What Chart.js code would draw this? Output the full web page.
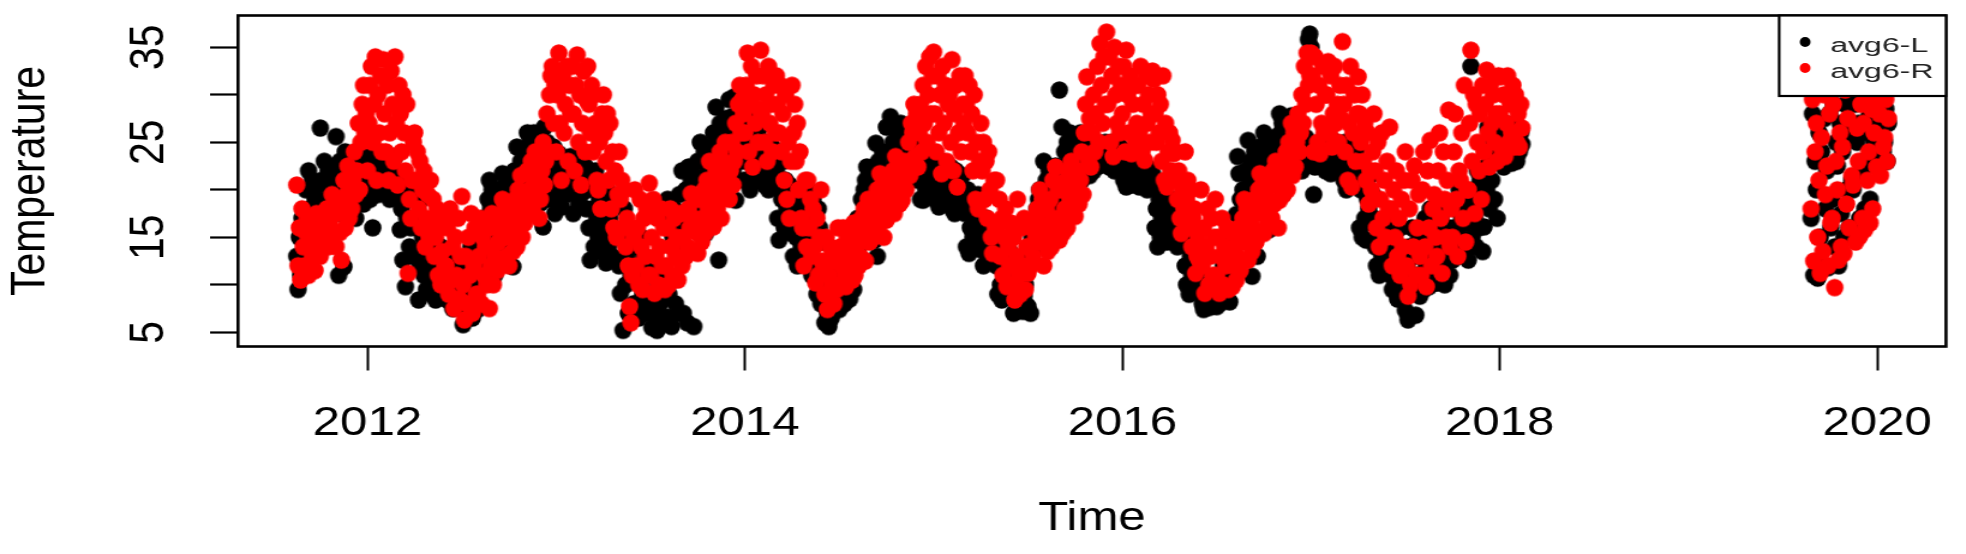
<!DOCTYPE html>
<html>
<head>
<meta charset="utf-8">
<title>avg6 temperature</title>
<script src="https://cdn.jsdelivr.net/npm/chart.js@4.4.1/dist/chart.umd.min.js"></script>
<style>
  html, body { margin: 0; padding: 0; background: #fff; overflow: hidden; }
  /* the original plot is stretched sideways, so the canvas is too */
  #wrap { position: absolute; left: 0; top: 0; width: 1638px; height: 554px; transform: scaleX(1.2002); transform-origin: 0 0; }
</style>
</head>
<body>
<div id="wrap"><canvas id="tempChart" width="1638" height="554"></canvas></div>
<script>
const xTicks = [2012, 2014, 2016, 2018, 2020];
const yTicks = [5, 10, 15, 20, 25, 30, 35];
const yLabels = [5, 15, 25, 35];
const seriesNames = ['avg6-L', 'avg6-R'];

// readings, 144 per year (12 per month)
const perYear = 144;
const start1 = 2011.625;
const start2 = 2019.65;

const avgR1 = [
  // 2011 (from mid Aug)
  20.5, 12, 16, 10.5, 18, 14,
  12, 15.5, 17, 11, 14, 16, 13, 15, 11.5, 17.5, 13.5, 14.5,
  13, 16, 14.5, 17, 15, 18, 14, 16.5, 17.5, 19.5, 15.5, 18.5,
  14, 17.5, 19, 15.5, 12.6, 18, 21, 16, 19.5, 22.5, 17, 20.5,
  18, 21, 24, 19.5, 22, 27, 20, 25, 29, 31, 26, 28,
  // 2012
  22, 27, 31, 33, 25, 29, 34, 21, 30, 26, 32, 24,
  33.7, 28, 24, 31, 21, 26, 32.5, 29, 23, 34, 27, 20.5,
  31, 28, 24, 30, 26, 22, 29, 11.2, 19, 17, 21, 25,
  26, 21, 24, 18, 23, 16, 20, 22, 14, 17, 19.5, 15,
  21, 16.5, 19, 13, 15, 18, 11, 16, 10, 13.5, 17, 12,
  12, 16, 9, 18, 10.5, 14, 7.5, 15, 11, 17, 8.5, 13,
  19.3, 10, 6.3, 13, 8, 15, 11, 17.5, 7, 12, 16, 9,
  9, 13, 17, 8, 15, 11, 14, 10, 16, 7.5, 12, 17.5,
  10, 13, 16, 11.5, 14.5, 12, 17, 19, 15, 18, 13, 16.5,
  12, 15, 18, 13.5, 16, 19, 14, 20, 17.5, 21.5, 15, 19.5,
  16.5, 19, 22, 17.5, 20, 23, 18, 21, 24, 19.5, 22.5, 17,
  19, 22, 25, 20.5, 23, 28, 24, 30, 32, 33, 27, 31,
  // 2013
  24, 30, 34.4, 27, 21, 32, 26, 29, 33, 23, 31, 28,
  33, 28, 22, 31, 34.2, 25, 30, 20.5, 27, 32.5, 24, 29.5,
  33, 29, 26, 31, 24, 30, 27, 21, 20, 25, 18, 28,
  30, 26, 23, 28, 21, 27, 18, 24, 16, 22, 15, 19.5,
  24, 19, 21, 16, 20, 14, 17, 12, 7.7, 6, 11, 15,
  20, 12, 16, 10, 19, 14, 9.5, 17, 13, 18, 11, 20.7,
  11, 15, 19, 9.1, 13, 17, 10, 14, 18, 12, 16, 9.5,
  12, 16, 10, 18, 14, 11, 17, 13, 15, 10.5, 17.5, 12.5,
  12, 15, 17.5, 13, 14, 18, 16, 19.6, 13.5, 17, 19, 15.5,
  13.3, 16, 19, 14.5, 17, 20, 15.5, 21, 18, 23, 16.5, 20.5,
  16.1, 19, 22, 18, 20, 24, 17, 23, 21, 25, 19.5, 22.5,
  19, 22, 25, 20.5, 23, 27, 24, 29, 31, 26, 29.5, 28,
  // 2014
  26, 31, 34.4, 24, 29, 33, 22.4, 30, 27, 32, 25, 28.5,
  34.7, 28, 32, 25, 30, 23, 33, 27, 29, 24, 31, 26,
  32, 29, 26, 31, 24, 28, 21, 30, 19, 25, 17, 23,
  31, 26, 29, 23, 27, 20, 24, 17, 16, 12, 21, 14,
  21, 16, 19, 13, 18, 14, 10.2, 17, 11, 15, 20, 12.5,
  12, 9, 15, 7.4, 11, 14, 10, 13, 8, 12.5, 9.5, 16,
  10, 14, 12, 16, 11, 9.8, 15, 13, 11.5, 14.5, 10.5, 16.5,
  11, 14, 16, 12, 13, 17, 15, 18, 12.5, 16.5, 19, 14.5,
  14.7, 17, 19, 15.5, 18, 20, 16, 21.7, 17.5, 20.5, 15, 19.5,
  16.8, 19, 21, 18, 20, 22, 17.5, 23.5, 19.5, 22.5, 18.5, 21.5,
  18.9, 21, 23, 20, 22, 25, 21.5, 27, 26, 29, 23.5, 28,
  22.4, 26, 29, 24, 31, 27, 33, 25, 30, 34, 28, 32,
  // 2015
  34.5, 28, 24, 32, 26, 30, 21.7, 33, 27, 31, 23, 29,
  30, 25, 33.7, 22, 28, 31, 20.3, 26, 32, 24, 29, 27,
  32, 29, 26, 31, 24, 28, 22, 30, 19, 25, 18, 23,
  27, 22, 25, 19, 23, 17, 24, 20, 15, 13.3, 21, 16,
  21, 16, 19, 13, 17, 11, 15, 18, 9.8, 14, 12, 16.5,
  10, 15, 8.4, 13, 19, 11, 9, 16, 12, 17, 9.5, 14,
  11.2, 14, 12, 16, 13, 17, 15, 18, 14.5, 20, 16.5, 19,
  12, 15, 18, 13.5, 16, 19, 14, 21, 17, 22.4, 15.5, 20,
  14.7, 17, 20, 15.5, 18, 21, 16, 22, 19, 23, 17.5, 21.5,
  17.2, 20, 22, 18.5, 21, 24, 19.5, 26, 29, 31.9, 23, 27.5,
  22.4, 26, 30, 24, 28, 33, 25, 35.4, 31, 27, 34, 29,
  36.6, 29, 34, 25, 32, 23.5, 35, 30, 27, 33, 26, 31,
  // 2016
  28, 33, 24, 34.7, 30, 26, 32, 23.8, 29, 31, 25, 27,
  31, 26, 33, 24, 29, 23.1, 32, 27, 30, 25, 28, 32.5,
  31.6, 28, 25, 30, 26, 29, 23, 32, 21, 27, 20.3, 24,
  26, 22, 25.2, 23.8, 21, 24, 19, 22, 17, 15.4, 20, 18,
  24, 19, 21, 16, 20, 14, 17, 18, 11.2, 13, 15, 12.5,
  20, 12, 16, 9.1, 14, 18, 10, 13, 17, 11, 15, 19,
  11, 15, 9.1, 13, 17, 10, 14, 12, 16, 9.5, 12.5, 15.5,
  9.8, 12, 14, 10.5, 13, 16, 11.5, 15, 17, 19, 14.5, 18,
  12.6, 15, 17, 13.5, 16, 19, 14.5, 18, 20, 21.7, 17.5, 20.5,
  15.4, 18, 20, 16.5, 19, 21, 17, 22, 18.5, 23, 20.5, 16,
  18.9, 21, 23, 19.5, 22, 24, 20, 25, 23.5, 27, 21.5, 26,
  22.4, 25, 28, 24, 26, 30, 27, 33, 29, 34.4, 31, 32,
  // 2017
  34.4, 32, 24, 34, 29, 25, 31, 23.8, 27, 33, 26, 30,
  30, 33.5, 26, 32, 24.5, 28, 33, 27, 29, 25, 31, 27.5,
  35.6, 29, 24, 31, 21, 27, 33, 20.3, 26, 30, 23, 28,
  31.9, 28, 25, 30, 23, 27, 21, 26, 18.5, 22, 20, 24,
  28, 22, 16, 25, 14, 19, 26, 17, 21, 15, 23, 18,
  26.6, 18, 12, 20, 15, 22, 13, 17, 11, 19, 14, 21,
  24, 12, 8.8, 18, 10, 21, 14, 22.5, 11, 16, 19.5, 13,
  11, 20, 24, 14, 9.8, 22, 16, 25.2, 12, 18, 19.5, 15,
  13, 22, 26, 17, 11.2, 24, 19, 15, 21, 28.4, 14, 18,
  15, 24, 28, 19, 13, 22, 21, 26, 17, 31, 14.5, 20,
  20, 27, 34.7, 23, 30, 17.5, 29, 25, 22, 28, 19, 31,
  24, 29, 32.6, 26, 22.4, 31, 27, 30, 25, 28, 23, 32,
  // 2018 (to early Feb)
  28, 31.9, 24, 30, 23.5, 27, 32, 25, 29, 26, 31, 24.5,
  30, 25, 28, 24.5, 29, 26.5
];

const avgL1 = [
  // 2011 (from mid Aug)
  13, 9.5, 15, 11, 17, 12,
  16, 20, 13.5, 22, 18, 14.5, 21, 17, 19, 15, 20.5, 18.5,
  26.5, 21, 15, 23, 19, 16, 22, 17, 20, 18, 21.5, 22.5,
  25.6, 20, 11, 23, 17.5, 22, 11.9, 24, 19, 21.5, 23.5, 18.5,
  18, 21, 23, 17, 20, 22.5, 19, 23.5, 21.5, 18.5, 20.5, 22,
  // 2012
  21, 23.5, 19, 22, 16, 23, 20.5, 22, 19.5, 21.5, 20, 22.5,
  23.8, 21, 22, 20.3, 23, 19, 22.5, 21, 20, 23.5, 21.5, 19.5,
  20, 15.8, 18, 12.6, 21, 9.8, 17, 19, 14, 16, 20.5, 13,
  17, 13, 16, 8.4, 12, 19, 15, 11, 14, 9.5, 13.5, 10.5,
  12, 9, 15, 10.5, 8.4, 13, 16, 11, 14, 9.5, 12.5, 10,
  10, 8.4, 13, 9, 11, 7.5, 12, 9.5, 8, 11.5, 10.5, 12.5,
  9, 5.8, 11, 7, 13, 8, 10, 14, 6.5, 12, 9.5, 11.5,
  7.4, 12, 15, 11, 14, 17, 13, 16, 19, 21, 18, 20,
  15, 11, 18, 14, 20, 16, 17, 21.7, 19, 20.5, 18.5, 21,
  18, 14.7, 20, 11.9, 22, 17, 24.5, 19, 21, 23, 16.5, 22.5,
  24, 21, 26, 20.3, 25, 22, 23.5, 26, 21.5, 24.5, 22.5, 25.5,
  18.6, 24, 16.1, 26.6, 21, 25, 19, 23, 20, 22, 24.5, 17.5,
  // 2013
  22, 19, 23.8, 20, 18.2, 23, 21, 22.5, 19.5, 21.5, 20.5, 23.5,
  21, 17.5, 23, 20, 22, 18.5, 23.5, 19.5, 21.5, 20.5, 22.5, 18,
  20, 16, 12.6, 21, 18, 14, 22, 17, 15, 19, 13.5, 16.5,
  15.4, 18, 12.3, 20, 14, 17, 13, 19, 16, 12.8, 18.5, 15,
  12, 9.1, 15, 5.2, 18, 10, 13, 7, 16, 11, 14, 8,
  12, 8, 14, 6.5, 10, 15, 9, 13, 7, 11, 8.5, 12.5,
  9, 5.5, 11, 7, 12, 5.2, 10, 8, 6.5, 11.5, 8.5, 6,
  6.6, 19, 9, 17, 5.6, 15, 18, 8, 16, 7, 19.5, 14,
  22, 7, 17, 20, 6, 22.4, 18, 21, 19, 5.6, 21.5, 16,
  23, 18, 25, 17, 21, 24, 15.4, 20, 22, 19, 24.5, 19.5,
  26, 21, 28.7, 24, 12.6, 27, 22, 25, 23, 27.5, 21.5, 26.5,
  29.5, 24, 27.7, 22, 29.8, 18.9, 26, 28, 23, 25, 27, 21,
  // 2014
  27, 23, 21, 26, 20, 24, 28, 22, 25, 21.5, 23.5, 26.5,
  24, 21, 23, 20.5, 25, 22, 20, 23.5, 21.5, 24.5, 22.5, 20.8,
  22, 17, 14.7, 20, 19, 23, 16, 21, 18, 15.5, 20.5, 17.5,
  18, 13, 20, 15, 12, 17, 19, 14, 16, 12.5, 18.5, 15.5,
  20, 14, 17, 11, 19, 12, 15, 9, 18, 16, 8, 14.5,
  8, 6, 9.8, 7, 5.6, 9, 6.5, 8.5, 11, 7.5, 10, 12,
  7.4, 10, 9.8, 12, 8, 11, 9, 13, 8.5, 10.5, 12.5, 9.5,
  13, 15, 17, 14, 16, 19, 15.5, 20, 21, 22.4, 18, 21.5,
  18, 20, 22.4, 14.7, 24.9, 13, 23, 19, 21, 24, 17, 22,
  26.6, 22, 24, 27.7, 20.3, 25, 23, 21, 26, 24.5, 22.5, 27,
  24, 21, 26.6, 22, 23, 25, 22.5, 26, 24.5, 21.5, 25.5, 23.5,
  21, 23, 19, 22, 18.9, 23.1, 20, 22, 21.5, 19.5, 22.5, 20.5,
  // 2015
  22, 19, 23.1, 20, 18.2, 21.5, 23, 20, 22.5, 19.5, 21, 18.8,
  20, 22.4, 18, 21, 17.5, 22, 19, 21, 20.5, 18.5, 21.5, 19.5,
  17.5, 14, 20, 13.3, 16, 19, 15, 18, 14.5, 17, 19.5, 15.5,
  13.7, 16, 12, 15, 17, 13, 14.5, 12.5, 16.5, 14, 15.5, 13.2,
  12, 9, 14, 10, 8.4, 13, 11, 9.5, 12.5, 10.5, 13.5, 11.5,
  9.8, 7, 8.5, 10, 7.5, 9, 8, 9.5, 7.2, 8.8, 10, 7.8,
  7.7, 13, 7, 15, 16, 14, 15.4, 18, 19, 20, 17, 19.5,
  23, 18, 21, 14, 22, 17, 20, 14.7, 19, 22.5, 18.5, 21.5,
  30.5, 22, 26.6, 20, 24, 21, 25, 23, 26, 22.5, 24.5, 21.5,
  22, 25, 20.5, 24, 26, 21, 23.5, 22, 25.5, 23, 24.5, 21.5,
  24.9, 23.5, 22, 25, 23, 24, 22.5, 24.5, 23.2, 24.2, 22.8, 25,
  23.5, 24.9, 22.4, 24, 23, 25, 22, 24.2, 23.8, 22.6, 24.6, 23.3,
  // 2016
  24.2, 21, 23, 20.3, 22, 24, 21.5, 20.5, 23.5, 22.5, 21.8, 23.2,
  22.4, 20.3, 21.5, 20.5, 22, 21, 22.5, 20, 21.2, 22.2, 20.8, 21.7,
  20.3, 16, 18, 14, 19, 15, 17, 20, 16.5, 18.5, 14.5, 17.5,
  17, 15, 19, 14.5, 18, 16, 14, 18.5, 15.5, 17.5, 16.5, 14.8,
  12, 10, 14, 9, 13, 11, 9.5, 12.5, 10.5, 13.5, 11.5, 9.8,
  9.1, 8, 7.4, 9.5, 8.5, 10, 7.6, 9, 8.2, 9.8, 7.8, 8.8,
  7.7, 10, 8, 11, 9, 12, 8.5, 10.5, 9.5, 11.5, 8.2, 10.8,
  12, 15, 11, 17.4, 23.5, 21.7, 19, 16, 20, 18, 22, 18.5,
  25.2, 21, 23, 10.9, 20.3, 24, 22, 13, 19, 24.5, 21.5, 23.5,
  26, 23, 24.5, 22.4, 15.8, 25, 22, 24, 25.5, 23.5, 21, 24.8,
  28, 26, 27, 19.6, 25, 27.5, 24, 26.5, 25.5, 27.8, 26.2, 24.5,
  25, 22.5, 24, 23, 26, 22, 24.5, 23.5, 25.5, 22.8, 35.8, 36.4,
  // 2017
  35, 23, 19.5, 22.4, 24.5, 23.5, 22.8, 25, 24, 23.2, 25.2, 22,
  24, 22, 25.6, 21.7, 23, 24.8, 22.5, 25, 23.5, 24.2, 22.2, 23.8,
  24, 21, 25, 20, 23, 22, 24.5, 21.5, 23.5, 22.5, 20.5, 24.2,
  22, 16, 20, 15, 21, 17, 14.7, 19, 18, 21.5, 16.5, 19.5,
  17, 14, 12, 16, 11, 15, 13, 14.7, 16.5, 12.5, 15.5, 13.5,
  13.7, 11, 9.5, 15, 10, 12.5, 8.5, 14, 16, 10.5, 12.8, 9,
  7.3, 12, 6.3, 14, 10, 16, 9.5, 13, 6.8, 11, 15, 8.8,
  10.5, 14, 9.5, 17, 12, 15.5, 9.8, 18, 11, 13.5, 16, 10.2,
  10.2, 15, 12, 17, 11.5, 14, 10, 18, 13, 16, 11, 15.5,
  12.6, 16, 14, 18, 13, 20, 15, 17, 19, 13.5, 16.5, 18.5,
  12.6, 18, 33, 15, 20, 17, 14, 22, 16, 21, 19, 13.5,
  16.1, 22.4, 20, 26.6, 18, 24, 21, 25, 19, 23, 17, 25.5,
  // 2018 (to early Feb)
  26.6, 23, 25, 22.4, 27, 24, 23.5, 26, 24.5, 22.8, 25.5, 26.8,
  27, 23, 25.5, 24, 26, 24.8
];

// Sep 2019 - Jan 2020
const avgR2 = [
  18, 29.5, 12.5, 24, 27, 15, 21, 11.2, 25.5, 13.5, 30, 19.5,
  22.5, 12, 28, 16.5, 17, 29, 9.7, 23, 20, 12.6, 26, 14,
  24.5, 13.3, 30.5, 18.5, 27.5, 16, 31, 21.5, 20.5, 32, 14.5, 26.5,
  23, 15.1, 29, 17, 27, 15.8, 30, 21, 24, 16.5, 28.5, 18,
  26, 31, 22.4, 29.5, 28, 21.5, 30.5, 24.5, 25.5, 29.5, 23, 27.5
];
const avgL2 = [
  17, 28, 11, 23, 20, 10.7, 26, 15, 24, 12, 27.5, 18,
  22, 11.8, 28, 16, 19, 29, 14, 25, 22.5, 12, 27, 17.5,
  24, 15, 29, 20, 26, 16, 30, 21, 20, 29, 16, 25,
  27, 17, 29.5, 22, 23, 18, 30, 26, 27.7, 19, 29, 24,
  25, 30, 22.4, 28, 27, 22.8, 29, 24, 25, 28.5, 23, 27
];

function toPoints(values, start) {
  return values.map((v, i) => ({ x: start + i / perYear, y: v }));
}

// round on screen although the canvas is stretched: draw the dot narrower
const stretch = 1.2002;
function dotImage(color, diameter) {
  const c = document.createElement('canvas');
  c.width = Math.ceil(diameter / stretch) + 2;
  c.height = Math.ceil(diameter) + 2;
  const g = c.getContext('2d');
  g.fillStyle = color;
  g.beginPath();
  g.ellipse(c.width / 2, c.height / 2, diameter / stretch / 2, diameter / 2, 0, 0, Math.PI * 2);
  g.fill();
  return c;
}

// plot box + boxed legend in the top right corner, like base R
const boxAndLegend = {
  id: 'boxAndLegend',
  afterDatasetsDraw(chart) {
    const { ctx, chartArea: a } = chart;
    ctx.save();
    ctx.strokeStyle = '#000';
    ctx.lineWidth = 2.6;
    ctx.strokeRect(a.left, a.top, a.right - a.left, a.bottom - a.top);

    const w = 139, h = 80.5;
    const bx = a.right - w, by = a.top;
    ctx.fillStyle = '#fff';
    ctx.fillRect(bx, by, w, h);
    ctx.lineWidth = 2.2;
    ctx.strokeRect(bx, by, w, h);

    ctx.font = '20px "Liberation Sans", Arial, sans-serif';
    ctx.textAlign = 'left';
    ctx.textBaseline = 'alphabetic';
    seriesNames.forEach((name, i) => {
      const ds = chart.data.datasets.find(d => d.label === name);
      const cy = by + 26.5 + i * 26;
      ctx.fillStyle = ds.backgroundColor;
      ctx.beginPath();
      ctx.ellipse(bx + 21.6, cy, 4.5, 5, 0, 0, Math.PI * 2);
      ctx.fill();
      ctx.save();
      ctx.translate(bx + 42.5, cy + 9.5);
      ctx.scale(1.335, 1);
      ctx.fillStyle = '#222';
      ctx.fillText(name, 0, 0);
      ctx.restore();
    });
    ctx.restore();
  }
};

Chart.defaults.font.family = '"Liberation Sans", Arial, sans-serif';
Chart.defaults.color = '#000';

new Chart(document.getElementById('tempChart'), {
  type: 'scatter',
  data: {
    datasets: [
      {
        label: seriesNames[0],
        data: toPoints(avgL1, start1).concat(toPoints(avgL2, start2)),
        backgroundColor: '#000000',
        pointStyle: dotImage('#000000', 17.5),
        order: 2
      },
      {
        label: seriesNames[1],
        data: toPoints(avgR1, start1).concat(toPoints(avgR2, start2)),
        backgroundColor: '#ff0000',
        pointStyle: dotImage('#ff0000', 17.5),
        order: 1
      }
    ]
  },
  options: {
    responsive: false,
    animation: false,
    devicePixelRatio: 1,
    events: [],
    layout: { padding: { top: 15.5, right: 16.6, bottom: 0, left: 0 } },
    elements: { point: { radius: 8.5, hoverRadius: 8.5, borderWidth: 0 } },
    plugins: {
      legend: { display: false },
      tooltip: { enabled: false }
    },
    scales: {
      x: {
        type: 'linear',
        position: 'bottom',
        min: 2011.314,
        max: 2020.365,
        afterBuildTicks: s => { s.ticks = xTicks.map(v => ({ value: v })); },
        afterFit: s => { s.height = 207.5; s.paddingLeft = 0; s.paddingRight = 0; },
        grid: { display: true, drawOnChartArea: false, drawTicks: true, tickLength: 24, tickWidth: 2, tickColor: '#000' },
        border: { display: false },
        ticks: { color: '#000', font: { size: 41 }, padding: 29, maxRotation: 0, autoSkip: false, callback: v => String(v) },
        title: { display: true, text: 'Time', color: '#000', font: { size: 41 }, padding: { top: 0, bottom: 11 } }
      },
      y: {
        type: 'linear',
        position: 'left',
        min: 3.5,
        max: 38.35,
        afterBuildTicks: s => { s.ticks = yTicks.map(v => ({ value: v })); },
        afterFit: s => { s.width = 198.3; s.paddingTop = 0; s.paddingBottom = 0; },
        grid: { display: true, drawOnChartArea: false, drawTicks: true, tickLength: 23.3, tickWidth: 2.2, tickColor: '#000' },
        border: { display: false },
        ticks: {
          color: '#000', font: { size: 41 }, padding: 27.9,
          minRotation: 90, maxRotation: 90, crossAlign: 'center', autoSkip: false,
          callback: v => yLabels.includes(v) ? String(v) : ''
        },
        title: { display: true, text: 'Temperature', color: '#000', font: { size: 41 }, padding: { top: 1.5, bottom: 0 } }
      }
    }
  },
  plugins: [boxAndLegend]
});
</script>
</body>
</html>
